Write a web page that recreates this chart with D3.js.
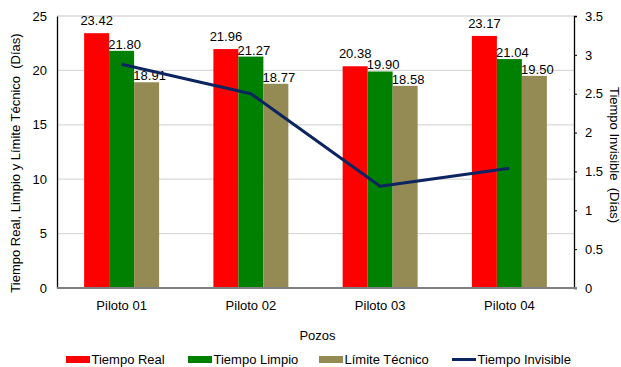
<!DOCTYPE html>
<html>
<head>
<meta charset="utf-8">
<script src="https://cdn.jsdelivr.net/npm/d3@7/dist/d3.min.js"></script>
<style>
  html, body { margin: 0; padding: 0; background: #fff; }
  svg { display: block; font-family: "Liberation Sans", Arial, sans-serif; }
</style>
</head>
<body>
<svg id="chart" width="621" height="367"></svg>
<script>
// Pozos (categories)
const pozos = ["Piloto 01", "Piloto 02", "Piloto 03", "Piloto 04"];

// Bar series (Días)
const tiempoReal    = [23.42, 21.96, 20.38, 23.17];
const tiempoLimpio  = [21.80, 21.27, 19.90, 21.04];
const limiteTecnico = [18.91, 18.77, 18.58, 19.50];

// Line series on the secondary axis (Días)
const tiempoInvisible = [2.88, 2.50, 1.31, 1.54];

// Tick values
const leftTicks  = [0, 5, 10, 15, 20, 25];
const rightTicks = [0, 0.5, 1, 1.5, 2, 2.5, 3, 3.5];

const barSeries = [
  { name: "Tiempo Real",    values: tiempoReal,    color: "#ff0000", labelDy: 8, labelDx: 0 },
  { name: "Tiempo Limpio",  values: tiempoLimpio,  color: "#008000", labelDy: 2, labelDx: 3 },
  { name: "Límite Técnico", values: limiteTecnico, color: "#948a54", labelDy: 2, labelDx: 3 }
];
const lineColor = "#0c2460";

const svg = d3.select("#chart");
const plot = { left: 57, right: 574, top: 16, bottom: 288 };

const x0 = d3.scaleBand().domain(pozos).range([plot.left, plot.right])
  .paddingInner(0.42).paddingOuter(0.21);
const x1 = d3.scaleBand().domain(barSeries.map(s => s.name)).range([0, x0.bandwidth()]);
const yL = d3.scaleLinear().domain([0, 25]).range([plot.bottom, plot.top]);
const yR = d3.scaleLinear().domain([0, 3.5]).range([plot.bottom, plot.top]);

// Horizontal gridlines
svg.append("g").selectAll("line").data(leftTicks.filter(d => d > 0)).join("line")
  .attr("x1", plot.left).attr("x2", plot.right)
  .attr("y1", d => yL(d)).attr("y2", d => yL(d))
  .attr("stroke", "#d9d9d9").attr("stroke-width", 1.3);

// Left axis (no tick marks)
const leftAxis = svg.append("g").attr("transform", `translate(${plot.left},0)`)
  .call(d3.axisLeft(yL).tickValues(leftTicks).tickSize(0).tickPadding(10).tickFormat(d3.format("d")));
leftAxis.select(".domain").attr("stroke", "#000").attr("stroke-width", 1.3);
leftAxis.selectAll("text").attr("font-size", 13).attr("fill", "#000")
  .attr("font-family", "Liberation Sans, Arial, sans-serif");

// Right axis with outward ticks
const rightAxis = svg.append("g").attr("transform", `translate(${plot.right},0)`)
  .call(d3.axisRight(yR).tickValues(rightTicks).tickSizeInner(3).tickSizeOuter(3).tickPadding(8)
    .tickFormat(d => d3.format("")(d)));
rightAxis.select(".domain").attr("stroke", "#000").attr("stroke-width", 1.3);
rightAxis.selectAll(".tick line").attr("stroke", "#000");
rightAxis.selectAll("text").attr("font-size", 13).attr("fill", "#000")
  .attr("font-family", "Liberation Sans, Arial, sans-serif");

// Bars
const groups = svg.append("g").selectAll("g").data(pozos).join("g")
  .attr("transform", d => `translate(${x0(d)},0)`);

barSeries.forEach(s => {
  groups.append("rect")
    .attr("x", x1(s.name))
    .attr("width", x1.bandwidth())
    .attr("y", (d, i) => yL(s.values[i]))
    .attr("height", (d, i) => yL(0) - yL(s.values[i]))
    .attr("fill", s.color);
});

// Category axis line
svg.append("line")
  .attr("x1", plot.left).attr("x2", plot.right + 3)
  .attr("y1", yL(0)).attr("y2", yL(0))
  .attr("stroke", "#808080").attr("stroke-width", 2);

// Value labels
barSeries.forEach(s => {
  groups.append("text")
    .attr("x", x1(s.name) + x1.bandwidth() / 2 + s.labelDx)
    .attr("y", (d, i) => yL(s.values[i]) - s.labelDy)
    .attr("text-anchor", "middle")
    .attr("font-size", 13).attr("fill", "#000")
    .text((d, i) => s.values[i].toFixed(2));
});

// Tiempo Invisible line
const line = d3.line()
  .x((d, i) => x0(pozos[i]) + x0.bandwidth() / 2)
  .y(d => yR(d));
svg.append("path").datum(tiempoInvisible)
  .attr("d", line).attr("fill", "none")
  .attr("stroke", lineColor).attr("stroke-width", 3).attr("stroke-linejoin", "round");

// Category labels
svg.append("g").selectAll("text").data(pozos).join("text")
  .attr("x", d => x0(d) + x0.bandwidth() / 2)
  .attr("y", 310)
  .attr("text-anchor", "middle").attr("font-size", 13).attr("fill", "#000")
  .text(d => d);

// Axis titles
svg.append("text").attr("x", (plot.left + plot.right) / 2 + 2).attr("y", 340)
  .attr("text-anchor", "middle").attr("font-size", 13).attr("fill", "#000")
  .text("Pozos");

svg.append("text")
  .attr("transform", "translate(20,163) rotate(-90)")
  .attr("text-anchor", "middle").attr("font-size", 13).attr("fill", "#000")
  .attr("xml:space", "preserve")
  .text("Tiempo Real, Limpio y Límite Técnico  (Días)");

svg.append("text")
  .attr("transform", "translate(610,155) rotate(90)")
  .attr("text-anchor", "middle").attr("font-size", 13).attr("fill", "#000")
  .attr("xml:space", "preserve")
  .text("Tiempo Invisible  (Días)");

// Legend
const legendItems = [
  { name: "Tiempo Real",      color: "#ff0000", type: "rect", x: 66 },
  { name: "Tiempo Limpio",    color: "#008000", type: "rect", x: 188 },
  { name: "Límite Técnico",   color: "#948a54", type: "rect", x: 319 },
  { name: "Tiempo Invisible", color: lineColor,  type: "line", x: 452 }
];
const legend = svg.append("g").selectAll("g").data(legendItems).join("g")
  .attr("transform", d => `translate(${d.x},359.5)`);
legend.filter(d => d.type === "rect").append("rect")
  .attr("x", 0).attr("y", -3.5).attr("width", 24).attr("height", 7)
  .attr("fill", d => d.color);
legend.filter(d => d.type === "line").append("line")
  .attr("x1", 0).attr("x2", 24).attr("y1", 0).attr("y2", 0)
  .attr("stroke", d => d.color).attr("stroke-width", 3);
legend.append("text")
  .attr("x", 25.5).attr("y", 4.5)
  .attr("font-size", 13).attr("fill", "#000")
  .text(d => d.name);
</script>
</body>
</html>
